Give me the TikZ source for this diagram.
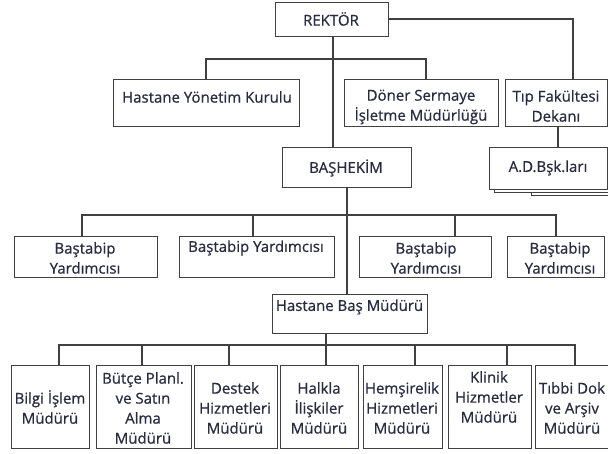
\documentclass[tikz,border=0pt]{standalone}
\usepackage{fontspec}
\setmainfont{Open Sans}[FakeBold=0.7]
\newfontfamily\txtfont{Open Sans}[FakeBold=0.7]
\definecolor{linecol}{HTML}{404040}
\definecolor{txtcol}{HTML}{2A2A44}
\tikzset{
  bx/.style={draw=linecol, line width=1pt, fill=white, inner sep=0pt},
  txt/.style={inner sep=0pt, align=center, text=txtcol, font=\txtfont\fontsize{15}{20}\selectfont},
  conn/.style={draw=linecol, line width=1.1pt},
}
\begin{document}
\begin{tikzpicture}[x=1pt,y=-1pt]
\useasboundingbox (0,0) rectangle (608,454);
\clip (0,0) rectangle (608,454);
% junction coordinates
\coordinate (jr) at (333,59);
\coordinate (jd) at (426,59);
\coordinate (jt) at (573,19);
\coordinate (jb) at (347,215);
\coordinate (jh) at (326,345);
% top level boxes
\node[bx, minimum width=113, minimum height=34] (rek) at (331.5,20) {};
\node[bx, minimum width=186, minimum height=47] (hyk) at (206,103.5) {};
\node[bx, minimum width=154, minimum height=47] (dsi) at (421,103.5) {};
\node[bx, minimum width=102, minimum height=47] (tfd) at (556,103.5) {};
\node[bx, minimum width=129, minimum height=40] (bas) at (346.5,168) {};
% stacked A.D.Bsk boxes
\node[bx, minimum width=84, minimum height=42] (adb3) at (573,175) {};
\node[bx, minimum width=117, minimum height=42] (adb2) at (552.5,172) {};
\node[bx, minimum width=118, minimum height=42] (adb) at (548,169) {};
% bastabip row
\node[bx, minimum width=143, minimum height=41] (by1) at (85.5,257.5) {};
\node[bx, minimum width=155, minimum height=41] (by2) at (256.5,257.5) {};
\node[bx, minimum width=132, minimum height=41] (by3) at (425,257.5) {};
\node[bx, minimum width=97, minimum height=41] (by4) at (555.5,257.5) {};
\node[bx, minimum width=155, minimum height=39] (hbm) at (349.5,314.5) {};
% bottom row
\node[bx, minimum width=78, minimum height=82] (m1) at (50,407) {};
\node[bx, minimum width=95, minimum height=82] (m2) at (143.5,407) {};
\node[bx, minimum width=83, minimum height=82] (m3) at (235.5,407) {};
\node[bx, minimum width=78, minimum height=82] (m4) at (319,407) {};
\node[bx, minimum width=79, minimum height=82] (m5) at (402.5,407) {};
\node[bx, minimum width=83, minimum height=82] (m6) at (489.5,407) {};
\node[bx, minimum width=78, minimum height=82] (m7) at (574,407) {};
% texts
\node[txt] (rek-t) at (331,19) {REKTÖR};
\node[txt] (hyk-t) at (207,97) {Hastane Yönetim Kurulu};
\node[txt] (dsi-t) at (421,107) {Döner Sermaye\\İşletme Müdürlüğü};
\node[txt] (tfd-t) at (556,106) {Tıp Fakültesi\\Dekanı};
\node[txt] (bas-t) at (346,168) {BAŞHEKİM};
\node[txt] (adb-t) at (548,168) {A.D.Bşk.ları};
\node[txt] (by1-t) at (85,258) {Baştabip\\Yardımcısı};
\node[txt] (by2-t) at (256,248) {Baştabip Yardımcısı};
\node[txt] (by3-t) at (426,258) {Baştabip\\Yardımcısı};
\node[txt] (by4-t) at (560,258) {Baştabip\\Yardımcısı};
\node[txt] (hbm-t) at (349.5,307) {Hastane Baş Müdürü};
\node[txt] (m1-t) at (50,407) {Bilgi İşlem\\Müdürü};
\node[txt] (m2-t) at (143,408) {Bütçe Planl.\\ve Satın\\Alma\\Müdürü};
\node[txt] (m3-t) at (235,408) {Destek\\Hizmetleri\\Müdürü};
\node[txt] (m4-t) at (319,408) {Halkla\\İlişkiler\\Müdürü};
\node[txt] (m5-t) at (402,408) {Hemşirelik\\Hizmetleri\\Müdürü};
\node[txt] (m6-t) at (489,397) {Klinik\\Hizmetler\\Müdürü};
\node[txt] (m7-t) at (572,408) {Tıbbi Dok\\ve Arşiv\\Müdürü};
% connectors from REKTOR
\draw[conn] (rek.south -| jr) -- (bas.north -| jr);
\draw[conn] (hyk.north) -- (hyk.north |- jr) -- (jd) -- (dsi.north -| jd);
\draw[conn] (rek.east |- jt) -- (jt) -- (tfd.north -| jt);
\draw[conn] (tfd.south -| 558,0) -- (adb.north -| 558,0);
% BASHEKIM
\draw[conn] (bas.south -| jb) -- (hbm.north -| jb);
\draw[conn] (by1.north -| 82,0) -- (82,215) -- (556,215) -- (by4.north -| 556,0);
\draw[conn] (by2.north -| 253,0) -- (253,215);
\draw[conn] (by3.north -| 455,0) -- (455,215);
% Hastane Bas Muduru
\draw[conn] (hbm.south -| jh) -- (jh);
\draw[conn] (m1.north -| 59,0) -- (59,345) -- (575,345) -- (m7.north -| 575,0);
\draw[conn] (m2.north -| 142,0) -- (142,345);
\draw[conn] (m3.north -| 229,0) -- (229,345);
\draw[conn] (m4.north -| 326,0) -- (326,345);
\draw[conn] (m5.north -| 415,0) -- (415,345);
\draw[conn] (m6.north -| 507,0) -- (507,345);
\end{tikzpicture}
\end{document}
